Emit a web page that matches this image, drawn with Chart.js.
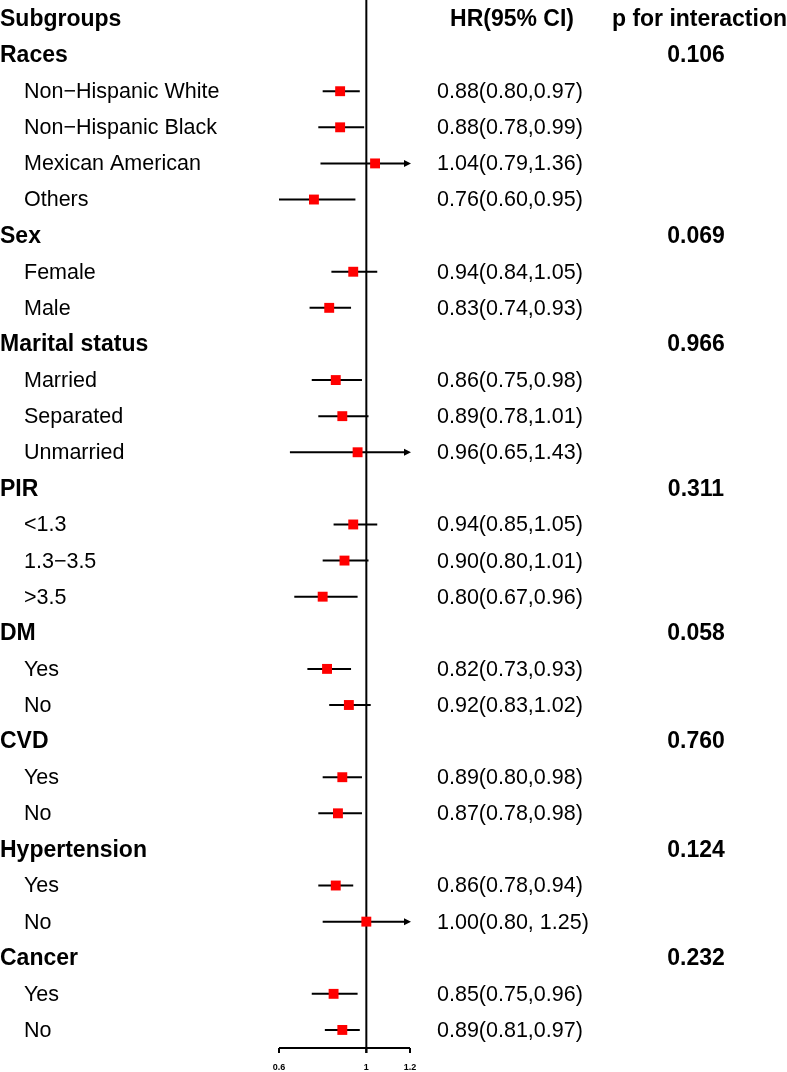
<!DOCTYPE html>
<html>
<head>
<meta charset="utf-8">
<script src="https://cdn.jsdelivr.net/npm/chart.js@4"></script>
<style>
    body { margin: 0; background: #fff; }
    #forest { display: block; }
</style>
</head>
<body>
<canvas id="forest" width="787" height="1072"></canvas>
<script>
// rows top to bottom, row 0 is the column header
const rowLabels = [
    'Subgroups', 'Races', 'Non\u2212Hispanic White', 'Non\u2212Hispanic Black', 'Mexican American', 'Others',
    'Sex', 'Female', 'Male',
    'Marital status', 'Married', 'Separated', 'Unmarried',
    'PIR', '<1.3', '1.3\u22123.5', '>3.5',
    'DM', 'Yes', 'No',
    'CVD', 'Yes', 'No',
    'Hypertension', 'Yes', 'No',
    'Cancer', 'Yes', 'No'
];
const headerRows = [0, 1, 6, 9, 13, 17, 20, 23, 26];

const hr = [null, null, 0.88, 0.88, 1.04, 0.76, null, 0.94, 0.83, null, 0.86, 0.89, 0.96, null, 0.94, 0.90, 0.80,
    null, 0.82, 0.92, null, 0.89, 0.87, null, 0.86, 1.00, null, 0.85, 0.89];
const lower = [null, null, 0.80, 0.78, 0.79, 0.60, null, 0.84, 0.74, null, 0.75, 0.78, 0.65, null, 0.85, 0.80, 0.67,
    null, 0.73, 0.83, null, 0.80, 0.78, null, 0.78, 0.80, null, 0.75, 0.81];
const upper = [null, null, 0.97, 0.99, 1.36, 0.95, null, 1.05, 0.93, null, 0.98, 1.01, 1.43, null, 1.05, 1.01, 0.96,
    null, 0.93, 1.02, null, 0.98, 0.98, null, 0.94, 1.25, null, 0.96, 0.97];

const hrText = ['HR(95% CI)', '', '0.88(0.80,0.97)', '0.88(0.78,0.99)', '1.04(0.79,1.36)', '0.76(0.60,0.95)',
    '', '0.94(0.84,1.05)', '0.83(0.74,0.93)',
    '', '0.86(0.75,0.98)', '0.89(0.78,1.01)', '0.96(0.65,1.43)',
    '', '0.94(0.85,1.05)', '0.90(0.80,1.01)', '0.80(0.67,0.96)',
    '', '0.82(0.73,0.93)', '0.92(0.83,1.02)',
    '', '0.89(0.80,0.98)', '0.87(0.78,0.98)',
    '', '0.86(0.78,0.94)', '1.00(0.80, 1.25)',
    '', '0.85(0.75,0.96)', '0.89(0.81,0.97)'];
const pText = ['p for interaction', '0.106', '', '', '', '', '0.069', '', '', '0.966', '', '', '',
    '0.311', '', '', '', '0.058', '', '', '0.760', '', '', '0.124', '', '', '0.232', '', ''];

const xTicks = [0.6, 1, 1.2];
const xMin = 0.6;
const xMax = 1.2;

const FONT = '"Liberation Sans", Arial, Helvetica, sans-serif';

function drawArrow(ctx, x, y, dir) {
    ctx.beginPath();
    ctx.moveTo(x, y);
    ctx.lineTo(x - dir * 7, y - 3.5);
    ctx.lineTo(x - dir * 7, y + 3.5);
    ctx.closePath();
    ctx.fill();
}

// CI whiskers, reference line and the x axis, drawn under the squares
const forestLines = {
    id: 'forestLines',
    beforeDatasetsDraw(chart) {
        const ctx = chart.ctx;
        const x = chart.scales.x;
        const y = chart.scales.y;
        const bottom = chart.chartArea.bottom;
        ctx.save();
        ctx.strokeStyle = '#000';
        ctx.fillStyle = '#000';
        ctx.lineWidth = 2;

        for (let i = 0; i < hr.length; i++) {
            if (hr[i] === null) continue;
            const yy = y.getPixelForValue(i);
            const lo = Math.max(lower[i], xMin);
            const hi = Math.min(upper[i], xMax);
            const x1 = x.getPixelForValue(lo);
            const x2 = x.getPixelForValue(hi);
            ctx.beginPath();
            ctx.moveTo(x1, yy);
            ctx.lineTo(upper[i] > xMax ? x2 - 5 : x2, yy);
            ctx.stroke();
            if (upper[i] > xMax) drawArrow(ctx, x2 + 1, yy, 1);
            if (lower[i] < xMin) drawArrow(ctx, x1 - 1, yy, -1);
        }

        // reference line at HR = 1
        const x1 = x.getPixelForValue(1);
        ctx.beginPath();
        ctx.moveTo(x1, 0);
        ctx.lineTo(x1, bottom + 5);
        ctx.stroke();

        // x axis
        ctx.beginPath();
        ctx.moveTo(x.getPixelForValue(xMin), bottom);
        ctx.lineTo(x.getPixelForValue(xMax), bottom);
        ctx.stroke();
        ctx.font = 'bold 9px ' + FONT;
        ctx.textAlign = 'center';
        ctx.textBaseline = 'middle';
        xTicks.forEach(t => {
            const tx = x.getPixelForValue(t);
            ctx.beginPath();
            ctx.moveTo(tx, bottom);
            ctx.lineTo(tx, bottom + 5);
            ctx.stroke();
            ctx.fillText(String(t), tx, bottom + 20);
        });
        ctx.restore();
    }
};

// text columns
const forestText = {
    id: 'forestText',
    afterDraw(chart) {
        const ctx = chart.ctx;
        const y = chart.scales.y;
        ctx.save();
        ctx.fillStyle = '#000';
        ctx.textBaseline = 'middle';
        for (let i = 0; i < rowLabels.length; i++) {
            const yy = y.getPixelForValue(i) + 1;
            const bold = headerRows.includes(i);
            ctx.font = (bold ? 'bold 23px ' : '21.5px ') + FONT;
            ctx.textAlign = 'left';
            ctx.fillText(rowLabels[i], bold ? 0 : 24, yy);

            if (hrText[i]) {
                if (i === 0) {
                    ctx.font = 'bold 23px ' + FONT;
                    ctx.textAlign = 'center';
                    ctx.fillText(hrText[i], 512, yy);
                } else {
                    ctx.font = '21.5px ' + FONT;
                    ctx.textAlign = 'left';
                    ctx.fillText(hrText[i], 437, yy);
                }
            }
            if (pText[i]) {
                ctx.font = 'bold 23px ' + FONT;
                ctx.textAlign = i === 0 ? 'right' : 'center';
                ctx.fillText(pText[i], i === 0 ? 787 : 696, yy);
            }
        }
        ctx.restore();
    }
};

const points = [];
hr.forEach((v, i) => { if (v !== null) points.push({x: v, y: i}); });

new Chart(document.getElementById('forest'), {
    type: 'scatter',
    data: {
        datasets: [{
            data: points,
            pointStyle: 'rect',
            pointRadius: 7,
            pointHoverRadius: 7,
            backgroundColor: '#ff0000',
            borderWidth: 0
        }]
    },
    options: {
        responsive: false,
        animation: false,
        devicePixelRatio: 1,
        layout: {padding: {left: 279, right: 377, top: 19, bottom: 24}},
        plugins: {legend: {display: false}, tooltip: {enabled: false}},
        scales: {
            x: {display: false, min: xMin, max: xMax},
            y: {display: false, reverse: true, min: 0, max: 28.5}
        }
    },
    plugins: [forestLines, forestText]
});
</script>
</body>
</html>
